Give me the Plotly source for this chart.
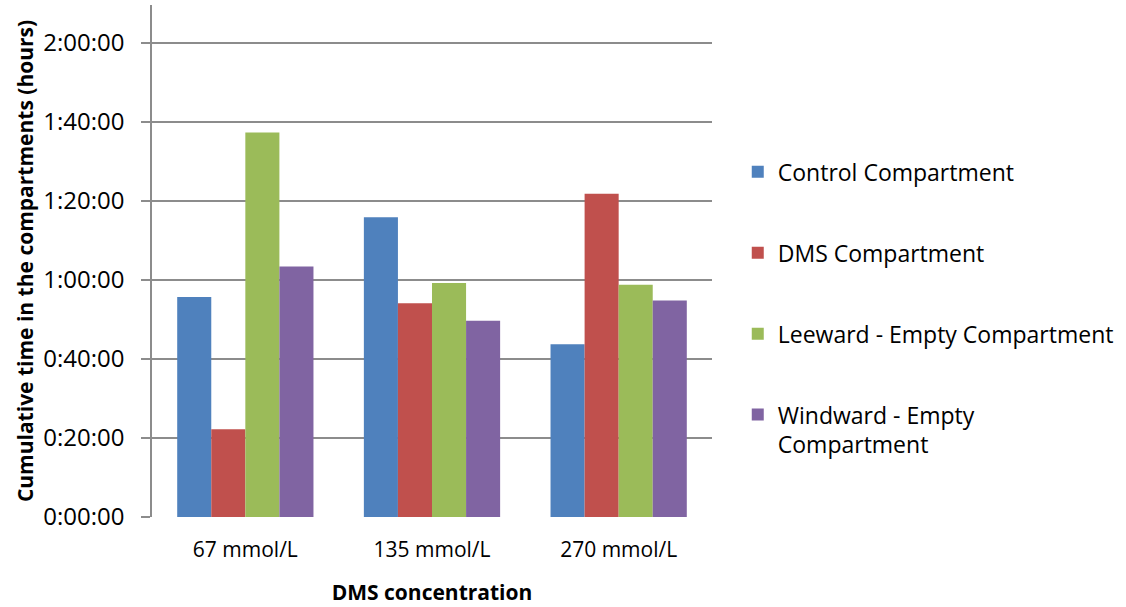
import plotly.graph_objects as go

categories = ["67 mmol/L", "135 mmol/L", "270 mmol/L"]
# cumulative time in minutes
control = [55.7, 75.9, 43.7]
dms = [22.2, 54.1, 81.8]
leeward = [97.3, 59.2, 58.8]
windward = [63.4, 49.7, 54.8]

series_names = ["Control Compartment", "DMS Compartment",
                "Leeward - Empty Compartment", "Windward - Empty<br>Compartment"]
series_values = [control, dms, leeward, windward]
colors = ["#4F81BD", "#C0504D", "#9BBB59", "#8064A2"]

tick_vals = [0, 20, 40, 60, 80, 100, 120]
tick_text = ["0:00:00", "0:20:00", "0:40:00", "1:00:00", "1:20:00", "1:40:00", "2:00:00"]

FONT = "Open Sans"
GRID = "#8C8C8C"

fig = go.Figure()
for i, (name, vals, col) in enumerate(zip(series_names, series_values, colors)):
    fig.add_trace(go.Bar(x=categories, y=vals, name=name, marker_color=col,
                         marker_line_width=0, legendgroup=f"g{i}"))

fig.update_layout(
    width=1126, height=607,
    margin=dict(l=152, r=414, t=5, b=90, autoexpand=False),
    paper_bgcolor="white", plot_bgcolor="white",
    barmode="group", bargap=0.27, bargroupgap=0,
    font=dict(family=FONT, size=22, color="#000000"),
    showlegend=True,
    legend=dict(x=1.046, xanchor="left", y=0.716, yanchor="top",
                traceorder="grouped", tracegroupgap=48, valign="top",
                font=dict(family=FONT, size=23, color="#000000"),
                bgcolor="rgba(0,0,0,0)"),
)
fig.update_xaxes(
    showgrid=False, showline=False, ticks="",
    tickfont=dict(family=FONT, size=21, color="#000000"),
    ticklabelstandoff=18,
    title=dict(text="<b>DMS concentration</b>", font=dict(family=FONT, size=21, color="#000000"), standoff=23),
)
fig.update_yaxes(
    range=[0, 129.6], tickvals=tick_vals, ticktext=tick_text,
    showgrid=True, gridcolor=GRID, gridwidth=1.6,
    zeroline=False,
    showline=True, linecolor=GRID, linewidth=1.6,
    ticks="outside", ticklen=9, tickcolor=GRID, tickwidth=1.6,
    ticklabelstandoff=12,
    tickfont=dict(family=FONT, size=24, color="#000000"),
    title=dict(text="<b>Cumulative time in the compartments (hours)</b>",
               font=dict(family=FONT, size=21, color="#000000"), standoff=4),
)

fig.write_html("out.html", config={"displayModeBar": False},
               post_script="document.body.style.margin='0';")
